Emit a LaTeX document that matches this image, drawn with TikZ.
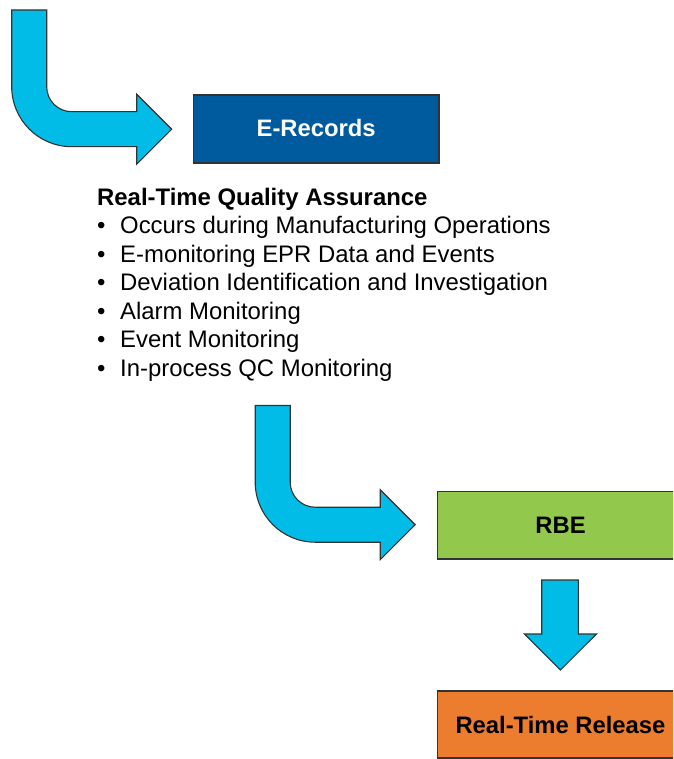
\documentclass[tikz,border=0pt]{standalone}
\usepackage{fontspec}
\setmainfont{Liberation Sans}
\definecolor{arrowblue}{HTML}{00BCE6}
\definecolor{boxblue}{HTML}{005B9E}
\definecolor{boxgreen}{HTML}{92C84B}
\definecolor{boxorange}{HTML}{ED7D2E}
\definecolor{edge}{HTML}{333333}
\tikzset{
  blockarrow/.style={fill=arrowblue, draw=edge, line width=1.1pt, line join=miter},
  stagebox/.style={draw=edge, line width=1.1pt},
  boxlabel/.style={font=\fontsize{23.8}{28}\selectfont\bfseries, anchor=center},
  bodytext/.style={font=\fontsize{23.9}{28}\selectfont, anchor=base west, inner sep=0pt},
}
\begin{document}
\begin{tikzpicture}[x=1pt, y=-1pt]
\useasboundingbox (0,0) rectangle (673,759);
\clip (0,0) rectangle (673,759);
% bent arrows
\foreach \dx/\dy/\nm in {0/0/bendA, 243.5/395.5/bendB}{
  \begin{scope}[shift={(\dx,\dy)}]
  \draw[blockarrow] (11.7,10) -- (46.7,10) -- (46.7,86.7)
     .. controls (46.7,100.5) and (57.9,111.7) .. (71.7,111.7)
     -- (136.7,111.7) -- (136.7,94.2) -- (171.7,129.2) -- (136.7,164.2)
     -- (136.7,146.7) -- (71.7,146.7)
     .. controls (38.6,146.7) and (11.7,119.8) .. (11.7,86.7) -- cycle;
  \end{scope}
}
% boxes
\draw[stagebox, fill=boxblue] (193.5,95) rectangle (439,163);
\node[boxlabel, text=white] (erec) at (316.2,127.5) {E-Records};
\draw[stagebox, fill=boxgreen] (437.5,491.5) rectangle (684,559);
\node[boxlabel] (rbe) at (560.5,525.5) {RBE};
\draw[stagebox, fill=boxorange] (437.5,691) rectangle (684,758);
\node[boxlabel] (rtr) at (560.5,724.5) {Real-Time Release};
% down arrow
\draw[blockarrow] (541.7,580) -- (578.3,580) -- (578.3,634) -- (596.5,634)
   -- (560.3,670) -- (524.5,634) -- (541.7,634) -- cycle;
% text block
\node[bodytext, font=\fontsize{23.9}{28}\selectfont\bfseries] (title) at (97,205) {Real-Time Quality Assurance};
\foreach \i/\t in {1/Occurs during Manufacturing Operations,
                   2/E-monitoring EPR Data and Events,
                   3/Deviation Identification and Investigation,
                   4/Alarm Monitoring,
                   5/Event Monitoring,
                   6/In-process QC Monitoring}{
  \node[bodytext] (b\i) at (97,205+28.5*\i) {\textbullet};
  \node[bodytext] (t\i) at (120,205+28.5*\i) {\t};
}
\end{tikzpicture}
\end{document}
